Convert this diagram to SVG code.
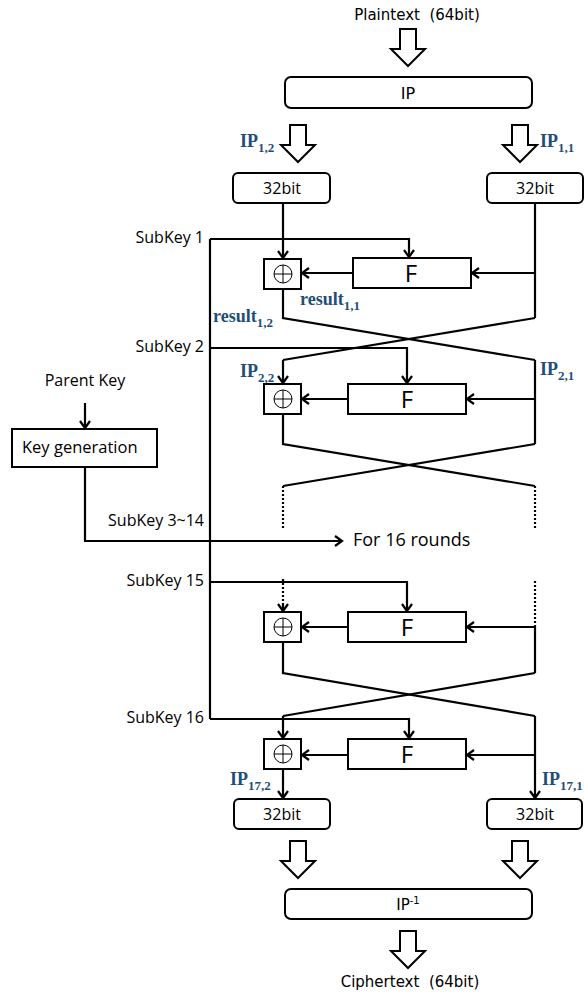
<svg xmlns="http://www.w3.org/2000/svg" xmlns:xlink="http://www.w3.org/1999/xlink" width="584" height="993" viewBox="0 0 584 993">
<style>
.bg{fill:#ffffff}
.box{fill:#ffffff;stroke:#000;stroke-width:2}
.ln{fill:none;stroke:#000;stroke-width:2.2}
.arr{fill:none;stroke:#000;stroke-width:2.2;marker-end:url(#ah)}
.dot{fill:none;stroke:#000;stroke-width:2.2;stroke-dasharray:2 2}
.xo{fill:none;stroke:#000;stroke-width:1}
.ha{fill:#ffffff;stroke:#000;stroke-width:2;stroke-linejoin:miter}
.dv{font-family:"DejaVu Sans",sans-serif;font-size:15px;fill:#000}
.os{font-family:"Open Sans",sans-serif;font-size:16px;fill:#000}
.fb{font-family:"Open Sans",sans-serif;font-size:24px;fill:#000;text-anchor:middle}
.lbl{font-family:"Liberation Serif","DejaVu Serif",serif;font-size:18px;font-weight:bold;fill:#1f4e79}
.sub{font-size:13px}
.mid{text-anchor:middle}
.end{text-anchor:end}
</style>
<defs>
<marker id="ah" markerUnits="userSpaceOnUse" viewBox="-9 -7 11 14" refX="0" refY="0" markerWidth="11" markerHeight="14" orient="auto" overflow="visible">
<path d="M-7,-5 L0,0 L-7,5" fill="none" stroke="#000" stroke-width="2.2"/>
</marker>
<path id="harrow" class="ha" d="M-8,0 h16 v20 h9 l-17,17 l-17,-17 h9 z"/>
</defs>
<rect class="bg" x="0" y="0" width="584" height="993"/>

<g id="connectors">
<!-- key bus -->
<path class="ln" d="M210,239 V719"/>
<path class="arr" d="M210,239 H409 V257"/>
<path class="arr" d="M210,348 H407 V383"/>
<path class="arr" d="M210,582 H407 V611"/>
<path class="arr" d="M210,719 H409 V738"/>
<!-- key generation -->
<path class="arr" d="M85,403 V428"/>
<path class="arr" d="M85,467 V541 H342"/>
<!-- round 1 -->
<path class="arr" d="M283,203 V258"/>
<path class="ln" d="M535,203 V318"/>
<path class="arr" d="M535,273 H472"/>
<path class="arr" d="M353,273 H302"/>
<path class="ln" d="M283,289 V318 L535,360"/>
<path class="ln" d="M535,318 L283,360"/>
<!-- round 2 -->
<path class="arr" d="M283,360 V383"/>
<path class="ln" d="M535,360 V444"/>
<path class="arr" d="M535,399 H467"/>
<path class="arr" d="M348,399 H302"/>
<path class="ln" d="M283,414 V444 L535,486"/>
<path class="ln" d="M535,444 L283,486"/>
<path class="dot" d="M283,486 V529"/>
<path class="dot" d="M535,486 V529"/>
<!-- round 15 -->
<path class="dot" d="M283,579 V604"/>
<path class="arr" d="M283,604 V611"/>
<path class="dot" d="M535,581 V626"/>
<path class="ln" d="M535,626 V673"/>
<path class="arr" d="M535,627 H467"/>
<path class="arr" d="M348,627 H302"/>
<path class="ln" d="M283,642 V673 L535,716"/>
<path class="ln" d="M535,673 L283,716"/>
<!-- round 16 -->
<path class="arr" d="M283,716 V738"/>
<path class="arr" d="M535,716 V798"/>
<path class="arr" d="M535,755 H467"/>
<path class="arr" d="M348,755 H302"/>
<path class="arr" d="M283,769 V798"/>
</g>

<g id="plaintext">
<text class="dv mid" x="417" y="20" style="white-space:pre">Plaintext  (64bit)</text>
<use xlink:href="#harrow" x="408" y="29"/>
</g>
<g id="ip">
<rect class="box" x="285" y="77" width="247" height="31" rx="6"/>
<text class="dv mid" x="408" y="99" style="font-size:16px">IP</text>
</g>
<g id="ip-arrows">
<use xlink:href="#harrow" x="298" y="125"/>
<use xlink:href="#harrow" x="520" y="125"/>
<text class="lbl" x="240" y="147">IP<tspan class="sub" dy="5">1,2</tspan></text>
<text class="lbl" x="540" y="147">IP<tspan class="sub" dy="5">1,1</tspan></text>
</g>
<g id="l0">
<rect class="box" x="233" y="173" width="97" height="30" rx="5"/>
<text class="os mid" x="282" y="194">32bit</text>
</g>
<g id="r0">
<rect class="box" x="487" y="173" width="96" height="30" rx="5"/>
<text class="os mid" x="535" y="194">32bit</text>
</g>

<g id="subkeys">
<text class="os end" x="204" y="243">SubKey 1</text>
<text class="os end" x="204" y="352">SubKey 2</text>
<text class="os end" x="204" y="526">SubKey 3~14</text>
<text class="os end" x="204" y="586">SubKey 15</text>
<text class="os end" x="204" y="723">SubKey 16</text>
</g>

<g id="keygen">
<text class="os mid" x="85" y="386">Parent Key</text>
<rect class="box" x="12" y="429" width="145" height="38"/>
<text class="os" x="22" y="453" style="font-size:16.5px">Key generation</text>
</g>

<g id="round1">
<rect class="box" x="264" y="259" width="37" height="30"/>
<circle class="xo" cx="283" cy="274" r="9"/>
<path class="xo" d="M274,274 H292 M283,265 V283"/>
<rect class="box" x="353" y="258" width="118" height="30"/>
<text class="fb" x="411" y="282">F</text>
<text class="lbl" x="300" y="305">result<tspan class="sub" dy="5">1,1</tspan></text>
<text class="lbl" x="213" y="322">result<tspan class="sub" dy="5">1,2</tspan></text>
</g>

<g id="round2">
<rect class="box" x="264" y="384" width="37" height="30"/>
<circle class="xo" cx="283" cy="399" r="9"/>
<path class="xo" d="M274,399 H292 M283,390 V408"/>
<rect class="box" x="348" y="384" width="118" height="30"/>
<text class="fb" x="407" y="408">F</text>
<text class="lbl" x="240" y="377">IP<tspan class="sub" dy="5">2,2</tspan></text>
<text class="lbl" x="540" y="375">IP<tspan class="sub" dy="5">2,1</tspan></text>
</g>

<g id="rounds-note">
<text class="os" x="353" y="546" style="font-size:18px">For 16 rounds</text>
</g>

<g id="round15">
<rect class="box" x="264" y="612" width="37" height="30"/>
<circle class="xo" cx="283" cy="627" r="9"/>
<path class="xo" d="M274,627 H292 M283,618 V636"/>
<rect class="box" x="348" y="612" width="118" height="30"/>
<text class="fb" x="407" y="636">F</text>
</g>

<g id="round16">
<rect class="box" x="264" y="739" width="37" height="30"/>
<circle class="xo" cx="283" cy="754" r="9"/>
<path class="xo" d="M274,754 H292 M283,745 V763"/>
<rect class="box" x="348" y="739" width="118" height="30"/>
<text class="fb" x="407" y="763">F</text>
<text class="lbl" x="230" y="785">IP<tspan class="sub" dy="5">17,2</tspan></text>
<text class="lbl" x="542" y="785">IP<tspan class="sub" dy="5">17,1</tspan></text>
</g>

<g id="l16">
<rect class="box" x="234" y="799" width="96" height="30" rx="5"/>
<text class="os mid" x="282" y="820">32bit</text>
</g>
<g id="r16">
<rect class="box" x="487" y="799" width="95" height="30" rx="5"/>
<text class="os mid" x="535" y="820">32bit</text>
</g>

<g id="final-arrows">
<use xlink:href="#harrow" x="298" y="841"/>
<use xlink:href="#harrow" x="520" y="841"/>
</g>
<g id="ipinv">
<rect class="box" x="285" y="889" width="247" height="30" rx="6"/>
<text class="dv mid" x="408" y="910" style="font-size:15px">IP<tspan style="font-size:10px" dy="-6">-1</tspan></text>
</g>
<g id="ciphertext">
<use xlink:href="#harrow" x="408" y="931"/>
<text class="dv mid" x="410" y="987" style="white-space:pre">Ciphertext  (64bit)</text>
</g>
</svg>
